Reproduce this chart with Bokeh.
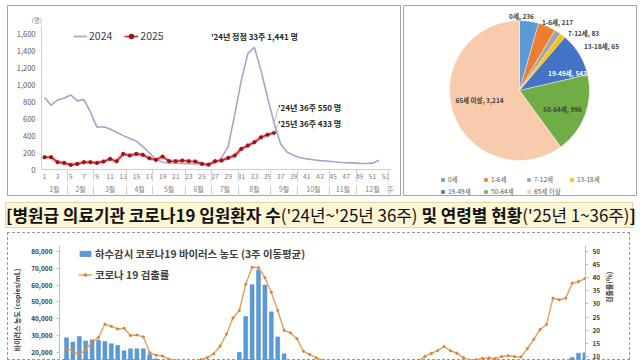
import math
from bokeh.plotting import figure
from bokeh.models import (Range1d, LinearAxis, FixedTicker, NumeralTickFormatter,
                          Legend, LegendItem, Label, Div, ColumnDataSource)
from bokeh.layouts import column, row
from bokeh.embed import file_html
from bokeh.resources import INLINE
from bokeh.core.properties import value

FONT = "Noto Sans CJK KR"

# ---------------- data: weekly hospitalised COVID-19 patients ----------------
weeks_2024 = list(range(1, 53))
adm_2024 = [850, 760, 820, 845, 880, 810, 825, 680, 500, 505,
            478, 440, 400, 365, 335, 270, 195, 120, 85, 78,
            74, 70, 68, 65, 62, 60, 75, 140, 270, 650,
            1050, 1370, 1441, 1170, 850, 550, 300, 205, 165, 140,
            125, 115, 105, 100, 92, 85, 80, 78, 72, 70,
            75, 110]
weeks_2025 = list(range(1, 37))
adm_2025 = [145, 145, 86, 78, 55, 66, 86, 86, 78, 94,
            125, 98, 184, 165, 184, 173, 133, 114, 153, 98,
            98, 106, 98, 94, 66, 57, 98, 106, 137, 165,
            243, 283, 322, 380, 410, 433]
week_ticks = list(range(1, 54, 2))
week_unit = "주"
months = ["1월", "2월", "3월", "4월", "5월", "6월", "7월", "8월", "9월", "10월", "11월", "12월"]
month_first_week = [1, 5, 9, 14, 18, 23, 27, 31, 36, 40, 45, 49]
last_week = 53

# ---------------- data: age groups 2025 ----------------
age_groups = ["0세", "1-6세", "7-12세", "13-18세", "19-49세", "50-64세", "65세 이상"]
age_counts = [236, 217, 83, 65, 543, 996, 3214]
age_colors = ["#5B9BD5", "#ED7D31", "#A5A5A5", "#FFC000", "#4472C4", "#70AD47", "#F8CBAD"]

# ---------------- data: wastewater + positivity ----------------
weeks_ww = list(range(82))
ww_conc = [28500, 25900, 29300, 26600, 27300, 27000, 26300, 25000, 24000, 20700,
           21900, 21900, 21900, 18500, 15900, 13500, 11500, 9800, 8500, 7600,
           7200, 7500, 8300, 9600, 11200, 13000, 14600, 19800, 41200, 60200,
           69000, 60000, 44000, 29000, 18900, 14500, 11800, 10000, 8800, 8000,
           7500, 7200, 7000, 6800, 6900, 7200, 7800, 8300, 8000, 7600,
           7200, 6800, 6500, 6200, 6000, 6100, 6500, 7200, 8000, 8800,
           9500, 9800, 9400, 8900, 8400, 8000, 7800, 7900, 8300, 8900,
           9600, 10400, 11300, 12200, 13000, 13800, 14300, 14700, 14800, 16700,
           19300, 19500]
pos_rate = [13.0, 12.0, 10.8, 12.5, 15.5, 17.2, 22.3, 21.5, 20.5, 20.8,
            18.0, 18.2, 17.5, 11.5, 10.5, 10.2, 9.0, 8.5, 8.0, 7.8,
            8.2, 8.8, 9.6, 11.0, 14.0, 18.5, 24.7, 27.5, 37.5, 44.0,
            43.8, 40.0, 34.5, 27.5, 20.0, 19.0, 16.8, 12.0, 10.8, 9.5,
            8.5, 8.0, 7.5, 7.2, 7.0, 6.8, 6.5, 6.3, 6.2, 6.0,
            6.2, 6.5, 7.0, 7.5, 8.0, 8.5, 10.0, 11.2, 12.3, 13.8,
            12.2, 11.3, 9.6, 8.6, 8.8, 9.3, 9.5, 9.2, 10.0, 10.3,
            10.0, 9.8, 13.0, 16.5, 20.3, 22.2, 32.2, 31.6, 32.2, 37.9,
            38.5, 39.7]
conc_ticks = list(range(0, 80001, 10000))
rate_ticks = list(range(0, 51, 5))

TXT = "#404040"
AX = "#d0d0d0"
BOX = {"outline": "1px solid #a6a6a6", "outline-offset": "-1px"}

# ======================= top-left: line chart =======================
p1 = figure(width=394, height=191, x_range=Range1d(0.543, 53.9), y_range=Range1d(0, 1700),
            output_backend="svg", toolbar_location=None, margin=(5, 1, 0, 7),
            min_border_left=34, min_border_right=10, min_border_top=20, min_border_bottom=27,
            title="(명)")
p1.frame_align = False
p1.grid.visible = False
p1.outline_line_color = None
p1.background_fill_color = None
p1.border_fill_color = None
p1.styles = BOX
p1.title.text_font = FONT
p1.title.text_font_size = "6.5px"
p1.title.text_font_style = "normal"
p1.title.text_color = "#7f7f7f"
p1.title.align = "left"
p1.title.offset = -10
p1.title.standoff = 1

p1.yaxis.ticker = FixedTicker(ticks=list(range(0, 1601, 200)))
p1.yaxis.formatter = NumeralTickFormatter(format="0,0")
for ax in p1.yaxis:
    ax.axis_line_color = AX
    ax.major_tick_out = 0
    ax.major_tick_in = 0
    ax.minor_tick_out = 0
    ax.minor_tick_in = 0
    ax.major_label_text_font = FONT
    ax.major_label_text_font_size = "7.5px"
    ax.major_label_text_color = "#595959"
    ax.major_label_standoff = 6

month_bounds = [w - 0.5 for w in month_first_week] + [last_week + 0.5]
month_centers = [(month_bounds[i] + month_bounds[i + 1]) / 2 for i in range(len(months))]
unit_pos = last_week + 0.75

for ax in p1.xaxis:
    ax.ticker = FixedTicker(ticks=week_ticks)
    ax.axis_line_color = AX
    ax.major_tick_out = 0
    ax.major_tick_in = 0
    ax.minor_tick_in = 0
    ax.minor_tick_out = 0
    ax.major_label_text_font = FONT
    ax.major_label_text_font_size = "7px"
    ax.major_label_text_color = "#7f7f7f"
    ax.major_label_standoff = 3

month_labels = {c: m for c, m in zip(month_centers, months)}
month_labels[unit_pos] = week_unit
mx = LinearAxis(ticker=FixedTicker(ticks=month_centers + [unit_pos], minor_ticks=month_bounds),
                major_label_overrides=month_labels,
                axis_line_color=None, major_tick_out=0, major_tick_in=0,
                minor_tick_out=0, minor_tick_in=12, minor_tick_line_color=AX,
                major_label_standoff=2,
                major_label_text_font=FONT, major_label_text_font_size="7px",
                major_label_text_color="#7f7f7f")
p1.add_layout(mx, "below")
sep = LinearAxis(ticker=FixedTicker(ticks=[], minor_ticks=month_bounds),
                 axis_line_color=None, major_tick_out=0, major_tick_in=0,
                 minor_tick_out=0, minor_tick_in=11, minor_tick_line_color=AX,
                 major_label_standoff=0, major_label_text_font_size="0px")
p1.add_layout(sep, "below")

r24 = p1.line(weeks_2024, adm_2024, line_color="#a4a4d0", line_width=1.6)
p1.line(weeks_2025, adm_2025, line_color="#f3a3a8", line_width=4, line_alpha=0.7)
r25 = p1.line(weeks_2025, adm_2025, line_color="#e0202c", line_width=1.6)
s25 = p1.scatter(weeks_2025, adm_2025, size=3.2, fill_color="#8b1a1a", line_color="#8b1a1a")

leg1 = Legend(items=[LegendItem(label="2024", renderers=[r24]),
                     LegendItem(label="2025", renderers=[r25, s25])],
              location=(32, 126), orientation="horizontal",
              background_fill_alpha=0, border_line_alpha=0, padding=0, margin=0,
              spacing=12, glyph_width=14, glyph_height=12, label_height=12,
              label_standoff=2, label_text_font=FONT, label_text_font_size="10.5px",
              label_text_color=TXT)
p1.add_layout(leg1)

peak_i = adm_2024.index(max(adm_2024))
peak_w = weeks_2024[peak_i]
p1.add_layout(Label(x=peak_w, y=adm_2024[peak_i] + 130, text=f"'24년 정점 {peak_w}주 {adm_2024[peak_i]:,} 명",
                    text_align="center", text_baseline="middle", text_font=FONT,
                    text_font_size="8px", text_font_style="bold", text_color="#262626"))
w36 = 36
v24 = adm_2024[weeks_2024.index(w36)]
v25 = adm_2025[weeks_2025.index(w36)]
p1.segment(x0=[w36, w36], y0=[v24, v25], x1=[w36 + 0.6, w36 + 0.6], y1=[v24 + 170, v25 + 100],
           line_color="#a4a4d0", line_width=0.8)
p1.add_layout(Label(x=w36 + 0.6, y=v24 + 180, text=f"'24년 {w36}주 {v24:,} 명",
                    text_align="left", text_baseline="middle", text_font=FONT,
                    text_font_size="8px", text_font_style="bold", text_color="#262626"))
p1.add_layout(Label(x=w36 + 0.6, y=v25 + 110, text=f"'25년 {w36}주 {v25:,} 명",
                    text_align="left", text_baseline="middle", text_font=FONT,
                    text_font_size="8px", text_font_style="bold", text_color="#262626"))

# ======================= top-right: pie =======================
p2 = figure(width=234, height=191, x_range=Range1d(-116, 118), y_range=Range1d(-106, 85),
            output_backend="svg", toolbar_location=None, margin=(5, 4, 0, 1),
            x_axis_location=None, y_axis_location=None, min_border=0)
p2.frame_align = False
p2.grid.visible = False
p2.outline_line_color = "#a6a6a6"

total = sum(age_counts)
cum = [0]
for c in age_counts:
    cum.append(cum[-1] + c)
starts = [math.pi / 2 - 2 * math.pi * cum[i + 1] / total for i in range(len(age_counts))]
ends = [math.pi / 2 - 2 * math.pi * cum[i] / total for i in range(len(age_counts))]
pie_src = ColumnDataSource(dict(group=age_groups, count=age_counts, color=age_colors,
                                start=starts, end=ends))
wr = p2.wedge(x=0, y=0, radius=70, start_angle="start", end_angle="end",
              fill_color="color", line_color="#ffffff", line_width=0.4, source=pie_src)

pie_label_dx = [2, 38, 64, 82, 48, 43, -40]
pie_label_dy = [75, 69, 58, 45, 18, -18, -9]
pie_label_color = ["#404040", "#404040", "#404040", "#404040", "#ffffff", "#404040", "#404040"]
lab_src = ColumnDataSource(dict(x=pie_label_dx, y=pie_label_dy, color=pie_label_color,
                                text=[f"{g}, {c:,}" for g, c in zip(age_groups, age_counts)]))
p2.text(x="x", y="y", text="text", text_color="color", source=lab_src, text_align="center",
        text_baseline="middle", text_font=value(FONT), text_font_size="6.5px",
        text_font_style="bold")

leg2 = Legend(items=[LegendItem(label=g, renderers=[wr], index=i) for i, g in enumerate(age_groups)],
              location=(37, 0), orientation="horizontal", ncols=4,
              background_fill_alpha=0, border_line_alpha=0, padding=0, margin=0,
              spacing=2, glyph_width=5, glyph_height=5, label_height=8, label_width=33,
              label_standoff=3, label_text_font=FONT, label_text_font_size="6.5px",
              label_text_color="#595959")
p2.add_layout(leg2)

# ======================= banner =======================
banner = Div(width=640, height=34, margin=0, text=(
    "<div style=\"box-sizing:border-box;margin-top:6px;margin-left:5px;height:26px;width:628px;"
    "background:#FFF6D5;border:1px solid #E2D39C;font-family:'Noto Sans CJK KR';"
    "font-size:16.9px;line-height:24px;color:#111111;text-align:center;white-space:nowrap;"
    "letter-spacing:0px;\"><b>[병원급 의료기관 코로나19 입원환자 수</b>('24년~'25년 36주) "
    "<b>및 연령별 현황</b>('25년 1~36주)<b>]</b></div>"))

# ======================= bottom: wastewater bars + positivity line =======================
p3 = figure(width=623, height=128, x_range=Range1d(-1.094, 81.09), y_range=Range1d(14927, 83582),
            output_backend="svg", toolbar_location=None, margin=(2, 10, 0, 7), x_axis_location=None,
            min_border_left=52, min_border_right=45, min_border_top=13, min_border_bottom=0)
p3.frame_align = False
p3.grid.visible = False
p3.outline_line_color = None
p3.background_fill_color = None
p3.border_fill_color = None
p3.styles = {"outline": "1px dashed #9a9a9a", "outline-offset": "-1px"}
p3.extra_y_ranges = {"rate": Range1d(8.5, 52.26)}

for ax in p3.yaxis:
    ax.ticker = FixedTicker(ticks=conc_ticks)
    ax.formatter = NumeralTickFormatter(format="0,0")
    ax.axis_label = "바이러스 농도 (copies/mL)" + "\u2003" * 2
ax_r = LinearAxis(y_range_name="rate", ticker=FixedTicker(ticks=rate_ticks), axis_label="검출률(%)")
if "axis_label_orientation" in ax_r.properties():
    ax_r.axis_label_orientation = math.pi / 2
p3.add_layout(ax_r, "right")
for ax in list(p3.yaxis) + [ax_r]:
    ax.axis_line_color = "#bfbfbf"
    ax.major_tick_out = 3
    ax.major_tick_in = 0
    ax.major_tick_line_color = "#bfbfbf"
    ax.minor_tick_out = 0
    ax.minor_tick_in = 0
    ax.major_label_text_font = FONT
    ax.major_label_text_font_size = "6.5px"
    ax.major_label_text_font_style = "bold"
    ax.major_label_text_color = TXT
    ax.major_label_standoff = 4
    ax.axis_label_text_font = FONT
    ax.axis_label_text_font_size = "7px"
    ax.axis_label_text_font_style = "bold"
    ax.axis_label_text_color = TXT
    ax.axis_label_standoff = 6

bars = p3.vbar(x=weeks_ww, top=ww_conc, bottom=0, width=0.62, fill_color="#5B9BD5",
               line_color="#3f7fbf", line_width=0.4)
rl = p3.line(weeks_ww, pos_rate, y_range_name="rate", line_color="#E59E5E", line_width=1.4)
rs = p3.scatter(weeks_ww, pos_rate, y_range_name="rate", size=2.2, fill_color="#d9843a",
                line_color="#d9843a")

leg3 = Legend(items=[LegendItem(label="하수감시 코로나19 바이러스 농도 (3주 이동평균)", renderers=[bars]),
                     LegendItem(label="코로나 19 검출률", renderers=[rl, rs])],
              location=(19, 78), orientation="vertical",
              background_fill_alpha=0, border_line_alpha=0, padding=0, margin=0,
              spacing=6, glyph_width=14, glyph_height=7, label_height=13,
              label_standoff=3, label_text_font=FONT, label_text_font_size="10.4px",
              label_text_font_style="bold", label_text_color=TXT)
p3.add_layout(leg3)

layout = column(row(p1, p2, spacing=0), banner, p3, spacing=0)
open("out.html", "w").write(file_html(layout, INLINE))
